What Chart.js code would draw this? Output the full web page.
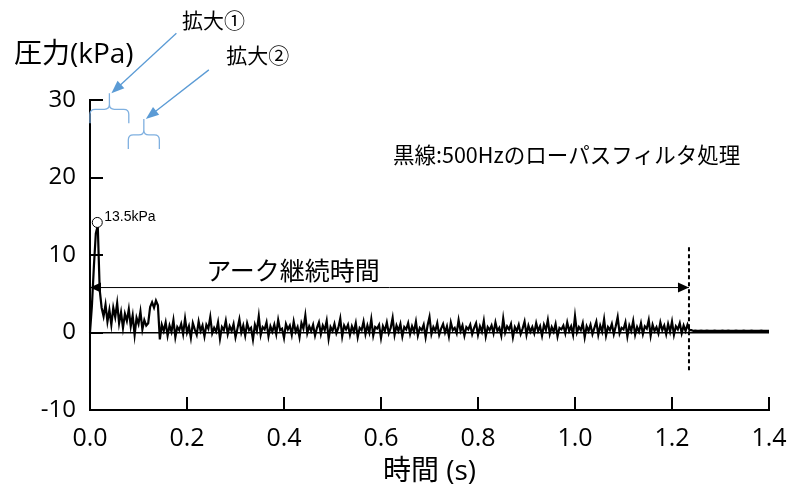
<!DOCTYPE html>
<html>
<head>
<meta charset="utf-8">
<script src="https://cdn.jsdelivr.net/npm/chart.js@4"></script>
<style>
  html, body { margin: 0; padding: 0; background: #fff; }
  #wrap { width: 789px; height: 496px; }
</style>
</head>
<body>
<div id="wrap"><canvas id="arcChart" width="789" height="496"></canvas></div>
<script>
// Pressure trace (kPa), one sample every sampleStep seconds
const sampleStep = 0.004;
const pressureKPa = [
  // spike
  0, 3.5, 8.5, 12.8, 13.8, 5.5, 3.2,
  // early noisy part
  2.1, 3.6, 1.4, 2.9, 1.0, 3.2, 2.0, 3.8, 1.2, 2.6, 0.6, 2.4, 1.5, 3.0, 0.8, 2.2, -0.3, 1.9, 1.1, 2.7, 0.4, 1.6, 0.9,
  // second bump
  1.2, 3.3, 3.9, 3.2, 4.1, 3.5, -0.9, 1.0,
  // arc noise
  0.2, 1.3, -0.4, 0.9, 0.1, 1.6, -0.6, 0.7, 0.3, 1.1, -0.2, 1.8, 0.0, 0.8, -0.7, 1.2,
  0.4, -0.3, 1.4, 0.2, 0.9, -0.5, 1.0, 0.5, 2.0, -0.1, 0.6, 0.1, 1.3, -0.8, 0.7, 0.3,
  1.5, -0.2, 0.8, 0.2, 1.1, -0.6, 0.5, 1.7, 0.0, 0.9, -0.4, 1.2, 0.3, 0.6, -0.9, 1.0,
  0.2, 2.1, -0.3, 0.7, 0.4, 1.3, -0.5, 0.8, 0.1, 1.0, -0.2, 1.6, 0.3, 0.5, -0.7, 1.1,
  0.4, 0.9, -0.3, 1.4, 0.1, 0.7, -0.6, 1.2, 0.5, 2.2, -0.1, 0.8, 0.2, 1.0, -0.4, 0.6,
  1.3, -0.2, 0.9, 0.3, 1.5, -0.8, 0.7, 0.2, 1.1, -0.1, 0.6, 1.8, -0.5, 0.9, 0.4, 1.0,
  -0.3, 0.8, 0.1, 1.2, -0.6, 0.6, 0.3, 1.4, -0.2, 0.9, 0.0, 1.7, -0.4, 0.7, 0.5, 1.0,
  -0.7, 0.8, 0.2, 1.3, -0.1, 0.6, 1.9, -0.3, 0.9, 0.2, 1.1, -0.5, 0.7, 0.4, 1.2, -0.2,
  0.8, 0.1, 1.4, -0.4, 0.6, 0.3, 1.0, -0.6, 0.9, 2.0, -0.2, 0.7, 0.2, 1.2, -0.3, 0.5,
  1.1, 0.0, 0.8, -0.5, 1.3, 0.3, 0.6, -0.1, 1.6, 0.2, 0.9, -0.4, 0.7, 0.4, 1.0, -0.2,
  0.6, 1.2, -0.3, 0.8, 0.1, 1.5, -0.5, 0.7, 0.3, 0.9, -0.1, 1.3, 0.2, 0.6, -0.4, 1.8,
  0.0, 0.8, 0.4, 1.1, -0.6, 0.7, 0.2, 1.0, -0.2, 0.5, 1.4, -0.3, 0.9, 0.1, 0.7, -0.1,
  1.2, 0.2, 0.8, -0.4, 1.0, 0.3, 1.6, -0.2, 0.7, 0.1, 1.1, -0.5, 0.6, 0.4, 0.9, -0.1,
  1.3, 0.2, 0.8, -0.3, 2.1, 0.0, 0.7, 0.3, 1.2, -0.6, 0.8, 0.2, 1.0, -0.2, 0.6, 1.4,
  -0.3, 0.9, 0.1, 1.7, -0.4, 0.7, 0.3, 1.1, -0.2, 0.8, 2.0, -0.1, 0.6, 0.4, 1.3, -0.5,
  0.9, 0.2, 1.5, -0.3, 0.7, 0.1, 1.2, -0.2, 0.8, 0.5, 1.6, -0.4, 1.0, 0.2, 0.7, -0.1,
  1.3, 0.3, 0.9, -0.2, 1.1, 0.1, 1.4, -0.3, 0.8, 0.4, 1.2, -0.1, 0.9, 0.2, 1.0, 0.3,
  // after the arc
  0.3, 0.2, 0.25, 0.2, 0.2, 0.25, 0.2, 0.2, 0.25, 0.2,
  0.2, 0.2, 0.25, 0.2, 0.2, 0.2, 0.25, 0.2, 0.2, 0.25,
  0.2, 0.2, 0.2, 0.25, 0.2, 0.2, 0.2, 0.25, 0.2, 0.2,
  0.2, 0.25, 0.2, 0.2, 0.2, 0.2, 0.25, 0.2, 0.2, 0.2, 0.2
];

const xTicks = [0, 0.2, 0.4, 0.6, 0.8, 1.0, 1.2, 1.4];
const yTicks = [-10, 0, 10, 20, 30];

const peakTime = 0.015;
const peakValue = 14.2;
const peakLabel = '13.5kPa';

const arcEnd = 1.235;        // s, end of arc
const arrowLevel = 5.8;      // kPa, height of the duration arrow
const dashTop = 11.0;
const dashBottom = -5.2;

// zoom brackets
const zoomStart = [0, 0.079];
const zoomEnd = [0.08, 0.143];
const zoomLevel = [28.8, 25.5];
const zoomLabels = ['拡大①', '拡大②'];

const signal = pressureKPa.map((v, i) => ({ x: i * sampleStep, y: v }));

const overlay = {
  id: 'overlay',
  afterDraw(chart) {
    const { ctx, chartArea: a, scales: { x, y } } = chart;
    ctx.save();

    // tick marks pointing inwards
    ctx.strokeStyle = '#000';
    ctx.lineWidth = 2;
    ctx.beginPath();
    y.ticks.forEach(t => {
      const py = Math.round(y.getPixelForValue(t.value));
      ctx.moveTo(a.left, py);
      ctx.lineTo(a.left + 13, py);
    });
    x.ticks.forEach(t => {
      const px = Math.round(x.getPixelForValue(t.value));
      ctx.moveTo(px, a.bottom);
      ctx.lineTo(px, a.bottom - 13);
    });
    ctx.stroke();

    // arrow heads of the duration arrow
    const pts = chart.getDatasetMeta(2).data;
    const p0 = pts[0], p1 = pts[1];
    ctx.fillStyle = '#000';
    ctx.beginPath();
    ctx.moveTo(p0.x, p0.y);
    ctx.lineTo(p0.x + 11, p0.y - 5);
    ctx.lineTo(p0.x + 11, p0.y + 5);
    ctx.closePath();
    ctx.moveTo(p1.x, p1.y);
    ctx.lineTo(p1.x - 11, p1.y - 5);
    ctx.lineTo(p1.x - 11, p1.y + 5);
    ctx.closePath();
    ctx.fill();

    // zoom brackets with arrows and labels
    const arrowFrom = [[67, -76], [65, -65]];
    const labelAt = [[104, -89], [114, -80]];
    zoomStart.forEach((s, i) => {
      const x0 = x.getPixelForValue(s);
      const x1 = x.getPixelForValue(zoomEnd[i]);
      const xm = (x0 + x1) / 2;
      const ym = y.getPixelForValue(zoomLevel[i]);
      const r = 5;
      ctx.strokeStyle = '#7fb0e0';
      ctx.lineWidth = 1.3;
      ctx.beginPath();
      ctx.moveTo(x0, ym + 14);
      ctx.lineTo(x0, ym + r);
      ctx.quadraticCurveTo(x0, ym, x0 + r, ym);
      ctx.lineTo(xm - r, ym);
      ctx.quadraticCurveTo(xm, ym, xm, ym - r);
      ctx.lineTo(xm, ym - 16);
      ctx.moveTo(xm, ym - r);
      ctx.quadraticCurveTo(xm, ym, xm + r, ym);
      ctx.lineTo(x1 - r, ym);
      ctx.quadraticCurveTo(x1, ym, x1, ym + r);
      ctx.lineTo(x1, ym + 14);
      ctx.stroke();

      // arrow
      const tx = xm + 2, ty = ym - 16;
      const sx = xm + arrowFrom[i][0], sy = ym + arrowFrom[i][1];
      const ang = Math.atan2(ty - sy, tx - sx);
      ctx.strokeStyle = '#5b9bd5';
      ctx.fillStyle = '#5b9bd5';
      ctx.lineWidth = 1.3;
      ctx.beginPath();
      ctx.moveTo(sx, sy);
      ctx.lineTo(tx - 10 * Math.cos(ang), ty - 10 * Math.sin(ang));
      ctx.stroke();
      ctx.beginPath();
      ctx.moveTo(tx, ty);
      ctx.lineTo(tx - 13 * Math.cos(ang) + 5 * Math.sin(ang), ty - 13 * Math.sin(ang) - 5 * Math.cos(ang));
      ctx.lineTo(tx - 13 * Math.cos(ang) - 5 * Math.sin(ang), ty - 13 * Math.sin(ang) + 5 * Math.cos(ang));
      ctx.closePath();
      ctx.fill();

      ctx.fillStyle = '#000';
      ctx.font = '21px "Noto Sans CJK JP"';
      ctx.textAlign = 'center';
      ctx.textBaseline = 'middle';
      ctx.fillText(zoomLabels[i], xm + labelAt[i][0], ym + labelAt[i][1]);
    });

    // texts
    ctx.fillStyle = '#000';
    ctx.textBaseline = 'middle';
    ctx.textAlign = 'left';
    ctx.font = '28px "Open Sans", "Noto Sans CJK JP"';
    ctx.fillText('圧力(kPa)', 14, 55);

    ctx.font = '14px "Liberation Sans", Arial';
    ctx.fillText(peakLabel, x.getPixelForValue(peakTime) + 7, y.getPixelForValue(peakValue) - 5);

    ctx.font = '25px "Noto Sans CJK JP"';
    ctx.textAlign = 'center';
    ctx.fillText('アーク継続時間', a.left + 203, y.getPixelForValue(arrowLevel) - 17);

    ctx.font = '21.5px "Noto Sans CJK JP"';
    ctx.textAlign = 'left';
    ctx.fillText('黒線:500Hzのローパスフィルタ処理', a.left + 303, 155);

    ctx.restore();
  }
};

new Chart(document.getElementById('arcChart'), {
  type: 'line',
  data: {
    datasets: [
      {
        data: [{ x: peakTime, y: peakValue }],
        showLine: false,
        pointRadius: 5,
        pointBackgroundColor: '#fff',
        pointBorderColor: '#000',
        pointBorderWidth: 1,
        order: 0
      },
      {
        data: signal,
        borderColor: '#000',
        borderWidth: 2.2,
        pointRadius: 0,
        tension: 0,
        order: 3
      },
      {
        data: [{ x: 0, y: arrowLevel }, { x: arcEnd, y: arrowLevel }],
        borderColor: '#000',
        borderWidth: 1,
        pointRadius: 0,
        order: 2
      },
      {
        data: [{ x: arcEnd, y: dashTop }, { x: arcEnd, y: dashBottom }],
        borderColor: '#000',
        borderWidth: 2,
        borderDash: [4, 3],
        pointRadius: 0,
        order: 1
      }
    ]
  },
  options: {
    responsive: false,
    animation: false,
    clip: false,
    layout: { padding: { top: 100, right: 20, left: 0, bottom: 0 } },
    plugins: {
      legend: { display: false },
      tooltip: { enabled: false },
      title: { display: false }
    },
    scales: {
      x: {
        type: 'linear',
        min: 0,
        max: 1.4,
        afterFit: s => {
          s.height = 86;
          s.paddingLeft = 0;
          s.paddingRight = 0;
        },
        afterBuildTicks: s => { s.ticks = xTicks.map(v => ({ value: v })); },
        ticks: {
          padding: 14,
          color: '#000',
          font: { family: 'Open Sans', size: 25 },
          callback: v => v.toFixed(1)
        },
        grid: { drawOnChartArea: false, drawTicks: false },
        border: { color: '#000', width: 2 },
        title: {
          display: true,
          text: '時間 (s)',
          color: '#000',
          font: { family: '"Open Sans", "Noto Sans CJK JP"', size: 28 },
          padding: { top: 0, bottom: 7 }
        }
      },
      y: {
        min: -10,
        max: 30,
        afterFit: s => { s.width = 90; },
        afterBuildTicks: s => { s.ticks = yTicks.map(v => ({ value: v })); },
        ticks: {
          padding: 14,
          color: '#000',
          font: { family: 'Open Sans', size: 24 }
        },
        grid: {
          drawTicks: false,
          color: c => (c.tick && c.tick.value === 0 ? '#000' : 'rgba(0,0,0,0)'),
          lineWidth: 1.5
        },
        border: { color: '#000', width: 2 }
      }
    }
  },
  plugins: [overlay]
});
</script>
</body>
</html>
